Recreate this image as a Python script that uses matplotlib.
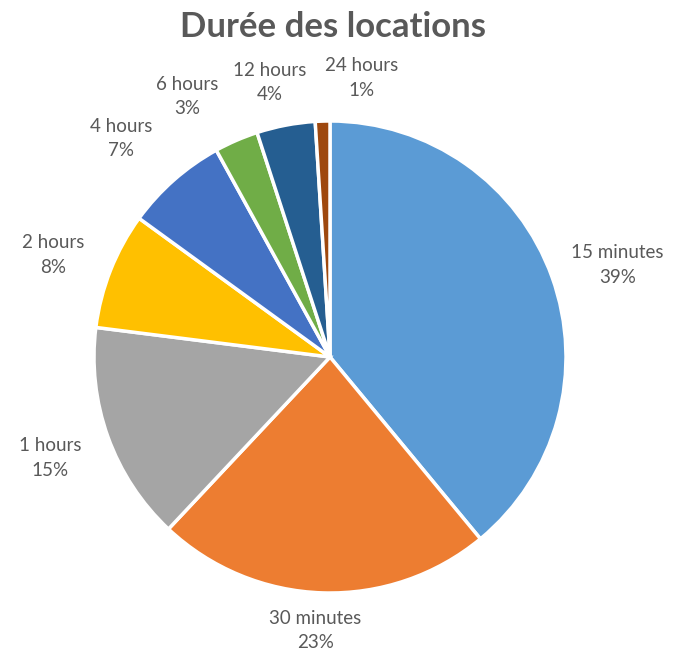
import numpy as np
import matplotlib.pyplot as plt

# data
labels = ['15 minutes', '30 minutes', '1 hours', '2 hours', '4 hours', '6 hours', '12 hours', '24 hours']
shares = [39, 23, 15, 8, 7, 3, 4, 1]
colors = ['#5B9BD5', '#ED7D31', '#A5A5A5', '#FFC000', '#4472C4', '#70AD47', '#255E91', '#9E480E']

plt.rcParams['font.family'] = ['Lato', 'DejaVu Sans']
grey = '#595959'

W, H = 689, 654
fig = plt.figure(figsize=(W / 100, H / 100), dpi=100)
cx, cy, r = 330, 357, 236
ax = fig.add_axes([(cx - r) / W, (H - cy - r) / H, 2 * r / W, 2 * r / H])

texts = [f'{lab}\n{v}%' for lab, v in zip(labels, shares)]
wedges, txts = ax.pie(shares, labels=texts, colors=colors, startangle=90, counterclock=False,
                      radius=1, wedgeprops=dict(edgecolor='white', linewidth=2.5),
                      textprops=dict(color=grey, fontsize=13.5))

# excel-like label placement: distance from centre and small angle nudge per slice
dist = [1.28, 1.16, 1.26, 1.25, 1.28, 1.26, 1.19, 1.19]
nudge = [-2, -1.3, 0, 1.4, 2.3, 5.4, 1.5, -8.3]
for w, t, d, n in zip(wedges, txts, dist, nudge):
    a = np.deg2rad((w.theta1 + w.theta2) / 2 + n)
    t.set_position((d * np.cos(a), d * np.sin(a)))
    t.set_ha('center')
    t.set_va('center')
    t.set_linespacing(1.55)
    w.set_clip_on(False)

ax.set_xlim(-1, 1)
ax.set_ylim(-1, 1)
ax.set_aspect('equal')

fig.text(0.483, 1 - 27 / H, 'Durée des locations', ha='center', va='center',
         fontsize=25, fontweight='bold', color=grey)

fig.savefig('out.png', dpi=100)
